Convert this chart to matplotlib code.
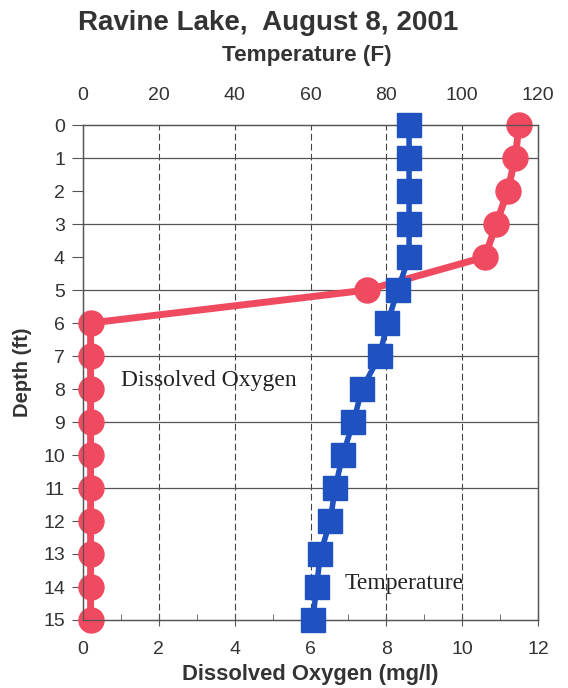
import matplotlib
matplotlib.use("Agg")
import matplotlib.pyplot as plt
from matplotlib.ticker import MultipleLocator

depth = [0, 1, 2, 3, 4, 5, 6, 7, 8, 9, 10, 11, 12, 13, 14, 15]
temperature_f = [86, 86, 86, 86, 86, 83, 80.3, 78.2, 73.6, 71.3, 68.5, 66.5, 65.2, 62.6, 61.6, 60.6]
dissolved_oxygen = [11.5, 11.4, 11.2, 10.9, 10.6, 7.5, 0.2, 0.2, 0.2, 0.2, 0.2, 0.2, 0.2, 0.2, 0.2, 0.2]
title = "Ravine Lake,  August 8, 2001"

plt.rcParams['font.family'] = ['Liberation Sans', 'DejaVu Sans']
txt = '#333333'

fig = plt.figure(figsize=(5.68, 6.88), dpi=100)
ax = fig.add_axes([83/568, 1-620/688, (538-83)/568, (620-125)/688])
ax2 = ax.twiny()

red = '#EF4A60'
blue = '#1F52C0'

ax.plot(dissolved_oxygen, depth, color=red, lw=5, marker='o', ms=18, zorder=3, clip_on=False)
ax2.plot(temperature_f, depth, color=blue, lw=4, marker='s', ms=17, zorder=3, clip_on=False)

ax.set_ylim(15, 0)
ax.set_xlim(0, 12)
ax2.set_xlim(0, 120)

ax.xaxis.set_major_locator(MultipleLocator(2))
ax.xaxis.set_minor_locator(MultipleLocator(1))
ax.yaxis.set_major_locator(MultipleLocator(1))
ax2.xaxis.set_major_locator(MultipleLocator(20))

for x in [2, 4, 6, 8, 10]:
    ax.axvline(x, color='#444444', lw=0.8, ls=(0, (6, 3)), zorder=1)
for y in [1, 3, 5, 7, 9, 11]:
    ax.axhline(y, color='#555555', lw=0.9, zorder=1)

for a in (ax, ax2):
    for s in a.spines.values():
        s.set_color('#555555')
        s.set_linewidth(0.9)

ax.tick_params(axis='x', which='major', direction='inout', length=8, color='#555555', labelsize=14, labelcolor=txt, pad=11)
ax.tick_params(axis='x', which='minor', direction='in', length=4, color='#555555')
ax.tick_params(axis='y', which='major', direction='out', length=8, color='#555555', labelsize=14, labelcolor=txt, pad=5)
ax2.tick_params(axis='x', which='major', direction='out', length=0, labelsize=14, labelcolor=txt, pad=15)

ax.set_xlabel('Dissolved Oxygen (mg/l)', fontsize=15.8, fontweight='bold', color=txt)
ax.xaxis.set_label_coords(0.5, -0.111)
ax.xaxis.label.set_va('center')
ax.set_ylabel('Depth (ft)', fontsize=14.5, fontweight='bold', color=txt, labelpad=8)

fig.text(0.472, 0.967, title, ha='center', va='center', fontsize=20, fontweight='bold', color=txt)
fig.text(0.540, 0.920, 'Temperature (F)', ha='center', va='center', fontsize=16.2, fontweight='bold', color=txt)

ax.text(1.0, 7.73, 'Dissolved Oxygen', family=['Liberation Serif', 'DejaVu Serif'], fontsize=17, color='#222222', va='center', ha='left', zorder=4)
ax.text(6.9, 13.9, 'Temperature', family=['Liberation Serif', 'DejaVu Serif'], fontsize=17, color='#222222', va='center', ha='left', zorder=4)

fig.savefig('out.png', dpi=100, facecolor='white')
